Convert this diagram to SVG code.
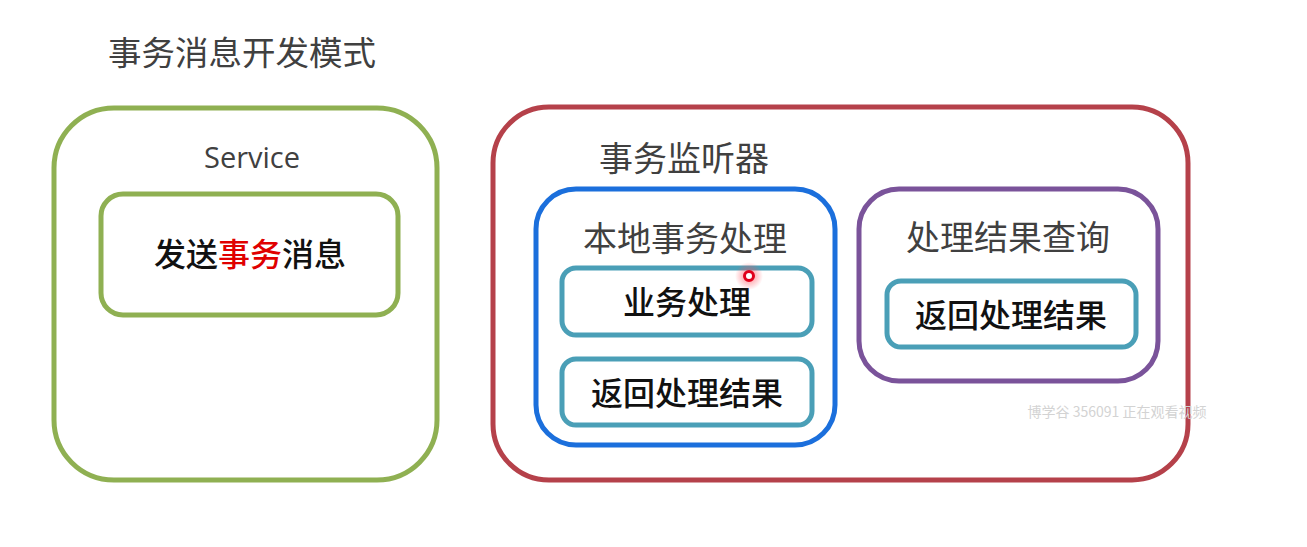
<svg xmlns="http://www.w3.org/2000/svg" width="1307" height="547" viewBox="0 0 1307 547">
<defs>
<style>
text{font-family:"Noto Sans CJK SC","Noto Sans",sans-serif;text-anchor:middle}
.t{font-size:34px;fill:#404040}
.b{font-size:32px;fill:#111;font-weight:500}
.g{fill:none;stroke:#8fb052;stroke-width:5}
.teal{fill:none;stroke:#4a9fb7;stroke-width:5}
</style>
<radialGradient id="glow"><stop offset="0" stop-color="#ff4d5a" stop-opacity="0.7"/><stop offset="1" stop-color="#ff4d5a" stop-opacity="0"/></radialGradient>
</defs>
<rect width="1307" height="547" fill="#fff"/>
<text x="242" y="65" class="t" style="font-size:33.5px">事务消息开发模式</text>
<g id="service">
<rect x="54" y="108" width="383" height="372" rx="60" class="g"/>
<text x="252" y="168" style="font-size:29px;fill:#404040;font-family:'Open Sans','Noto Sans',sans-serif">Service</text>
</g>
<g id="send">
<rect x="101" y="194" width="297" height="121" rx="22" class="g"/>
<text x="250" y="266" class="b">发送<tspan fill="#e00000">事务</tspan>消息</text>
</g>
<g id="listener">
<rect x="493" y="107" width="695" height="373" rx="56" fill="none" stroke="#b5414a" stroke-width="5"/>
<text x="684" y="171" class="t">事务监听器</text>
</g>
<g id="local">
<rect x="536" y="189" width="299" height="256" rx="40" fill="none" stroke="#1b6fdc" stroke-width="5"/>
<text x="685" y="251" class="t">本地事务处理</text>
</g>
<g id="biz">
<rect x="562" y="268" width="250" height="67" rx="14" class="teal"/>
<text x="687" y="314" class="b">业务处理</text>
</g>
<g id="ret1">
<rect x="562" y="359" width="250" height="66" rx="14" class="teal"/>
<text x="687" y="405" class="b">返回处理结果</text>
</g>
<g id="query">
<rect x="859" y="189" width="299" height="192" rx="40" fill="none" stroke="#7a539a" stroke-width="5"/>
<text x="1008" y="250" class="t">处理结果查询</text>
</g>
<g id="ret2">
<rect x="887" y="281" width="249" height="66" rx="14" class="teal"/>
<text x="1011" y="327" class="b">返回处理结果</text>
</g>
<g id="connectors"></g>
<circle cx="749" cy="276" r="14" fill="url(#glow)"/>
<circle cx="749" cy="276" r="4.5" fill="#fff" stroke="#e0001b" stroke-width="3"/>
<text x="1117" y="417" style="font-size:14px;fill:#d3d3d3">博学谷 356091 正在观看视频</text>
</svg>
